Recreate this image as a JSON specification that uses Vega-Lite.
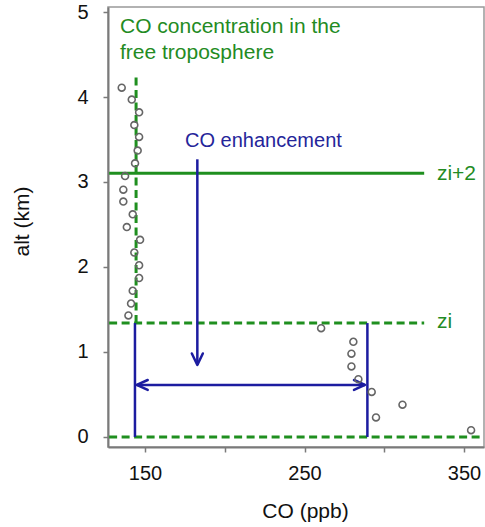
{
  "$schema": "https://vega.github.io/schema/vega-lite/v6.json",
  "autosize": {"type": "none"},
  "padding": {"left": 108, "top": 7, "right": 1, "bottom": 80},
  "width": 376,
  "height": 440,
  "config": {
    "font": "Liberation Sans",
    "view": {"stroke": "#999", "strokeWidth": 1.5},
    "axis": {
      "grid": false,
      "domainColor": "#7a7a7a",
      "domainWidth": 2,
      "tickColor": "#7a7a7a",
      "tickWidth": 1.5,
      "tickSize": 5,
      "labelFont": "Liberation Sans",
      "labelFontSize": 20,
      "labelColor": "#111",
      "titleFont": "Liberation Sans",
      "titleFontSize": 21,
      "titleFontWeight": "normal",
      "titleColor": "#111"
    }
  },
  "datasets": {
    "points": [
      {"CO": 135.4, "alt": 4.11}, {"CO": 141.7, "alt": 3.97}, {"CO": 146.3, "alt": 3.82},
      {"CO": 143.3, "alt": 3.67}, {"CO": 146.3, "alt": 3.53}, {"CO": 145.4, "alt": 3.37},
      {"CO": 143.75, "alt": 3.22}, {"CO": 137.5, "alt": 3.07}, {"CO": 136.4, "alt": 2.91},
      {"CO": 136.4, "alt": 2.77}, {"CO": 142.3, "alt": 2.62}, {"CO": 138.6, "alt": 2.47},
      {"CO": 146.9, "alt": 2.32}, {"CO": 143.3, "alt": 2.17}, {"CO": 146.3, "alt": 2.02},
      {"CO": 146.3, "alt": 1.87}, {"CO": 142.3, "alt": 1.72}, {"CO": 141.25, "alt": 1.57},
      {"CO": 139.6, "alt": 1.43},
      {"CO": 260.4, "alt": 1.28}, {"CO": 280.6, "alt": 1.12}, {"CO": 279.4, "alt": 0.98},
      {"CO": 279.4, "alt": 0.83}, {"CO": 283.75, "alt": 0.68}, {"CO": 292.1, "alt": 0.53},
      {"CO": 311.4, "alt": 0.38}, {"CO": 294.8, "alt": 0.23}, {"CO": 354.4, "alt": 0.08}
    ],
    "green_solid": [
      {"co1": 127.5, "co2": 325, "alt1": 3.102, "alt2": 3.102}
    ],
    "green_dashed": [
      {"co1": 127.5, "co2": 325, "alt1": 1.34, "alt2": 1.34},
      {"co1": 127.5, "co2": 362.5, "alt1": 0, "alt2": 0},
      {"co1": 144.4, "co2": 144.4, "alt1": 1.34, "alt2": 4.24}
    ],
    "blue_lines": [
      {"co1": 143.7, "co2": 143.7, "alt1": 0, "alt2": 1.34},
      {"co1": 289.4, "co2": 289.4, "alt1": 0, "alt2": 1.34},
      {"co1": 144.8, "co2": 287.9, "alt1": 0.612, "alt2": 0.612},
      {"co1": 182.8, "co2": 182.8, "alt1": 0.847, "alt2": 3.267}
    ],
    "arrowheads": [
      {"CO": 144.8, "alt": 0.612, "dir": "left"},
      {"CO": 287.9, "alt": 0.612, "dir": "right"},
      {"CO": 182.8, "alt": 0.847, "dir": "down"}
    ],
    "green_text": [
      {"CO": 134.3, "alt": 4.75, "label": "CO concentration in the\nfree troposphere"},
      {"CO": 333, "alt": 3.024, "label": "zi+2"},
      {"CO": 333, "alt": 1.279, "label": "zi"}
    ],
    "blue_text": [
      {"CO": 175.1, "alt": 3.415, "label": "CO enhancement"}
    ]
  },
  "encoding": {
    "x": {
      "type": "quantitative",
      "scale": {"domain": [126.8, 362.5], "nice": false, "zero": false},
      "axis": {
        "title": "CO (ppb)",
        "values": [150, 200, 250, 300, 350],
        "labelExpr": "datum.value == 200 || datum.value == 300 ? '' : datum.label",
        "labelPadding": 11,
        "titleX": 197,
        "titleY": 70,
        "titleBaseline": "alphabetic"
      }
    },
    "y": {
      "type": "quantitative",
      "scale": {"domain": [-0.118, 5.059], "nice": false, "zero": false},
      "axis": {
        "title": "alt (km)",
        "values": [0, 1, 2, 3, 4, 5],
        "labelPadding": 15,
        "titleX": -80,
        "titleY": 214,
        "titleAngle": -90,
        "titleAlign": "center",
        "titleBaseline": "alphabetic"
      }
    }
  },
  "layer": [
    {
      "data": {"name": "green_solid"},
      "mark": {"type": "rule", "color": "#1f8f1f", "strokeWidth": 3},
      "encoding": {
        "x": {"field": "co1", "type": "quantitative"},
        "x2": {"field": "co2"},
        "y": {"field": "alt1", "type": "quantitative"},
        "y2": {"field": "alt2"}
      }
    },
    {
      "data": {"name": "green_dashed"},
      "mark": {"type": "rule", "color": "#1f8f1f", "strokeWidth": 3, "strokeDash": [8, 4.5]},
      "encoding": {
        "x": {"field": "co1", "type": "quantitative"},
        "x2": {"field": "co2"},
        "y": {"field": "alt1", "type": "quantitative"},
        "y2": {"field": "alt2"}
      }
    },
    {
      "data": {"name": "blue_lines"},
      "mark": {"type": "rule", "color": "#1c1ca0", "strokeWidth": 2.5},
      "encoding": {
        "x": {"field": "co1", "type": "quantitative"},
        "x2": {"field": "co2"},
        "y": {"field": "alt1", "type": "quantitative"},
        "y2": {"field": "alt2"}
      }
    },
    {
      "data": {"name": "arrowheads"},
      "mark": {"type": "point", "filled": false, "stroke": "#1c1ca0", "strokeWidth": 2.5, "size": 121, "opacity": 1, "strokeCap": "round", "strokeJoin": "round"},
      "encoding": {
        "x": {"field": "CO", "type": "quantitative"},
        "y": {"field": "alt", "type": "quantitative"},
        "shape": {
          "field": "dir",
          "type": "nominal",
          "scale": {"domain": ["left", "right", "down"], "range": ["M2,-0.9L0,0L2,0.9", "M-2,-0.9L0,0L-2,0.9", "M-1,-2.1L0,0L1,-2.1"]},
          "legend": null
        }
      }
    },
    {
      "data": {"name": "points"},
      "mark": {"type": "point", "shape": "circle", "filled": false, "stroke": "#666", "strokeWidth": 1.6, "size": 48, "opacity": 1},
      "encoding": {
        "x": {"field": "CO", "type": "quantitative"},
        "y": {"field": "alt", "type": "quantitative"}
      }
    },
    {
      "data": {"name": "green_text"},
      "mark": {"type": "text", "align": "left", "baseline": "alphabetic", "fontSize": 21, "color": "#238b23", "lineBreak": "\n", "lineHeight": 26},
      "encoding": {
        "x": {"field": "CO", "type": "quantitative"},
        "y": {"field": "alt", "type": "quantitative"},
        "text": {"field": "label"}
      }
    },
    {
      "data": {"name": "blue_text"},
      "mark": {"type": "text", "align": "left", "baseline": "alphabetic", "fontSize": 20, "color": "#25259a"},
      "encoding": {
        "x": {"field": "CO", "type": "quantitative"},
        "y": {"field": "alt", "type": "quantitative"},
        "text": {"field": "label"}
      }
    }
  ]
}
